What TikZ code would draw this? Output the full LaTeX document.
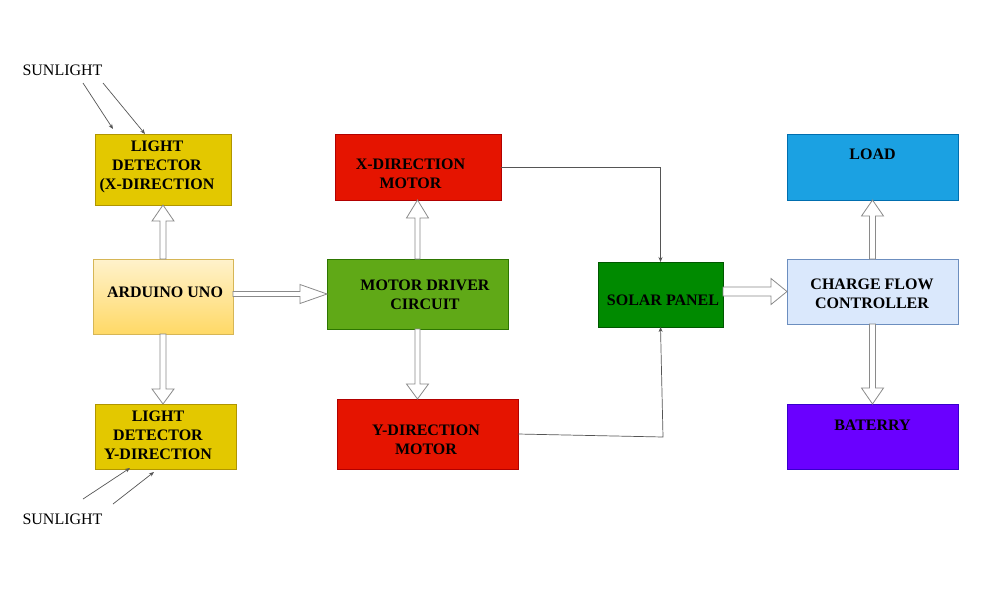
\documentclass[tikz,border=0pt]{standalone}
\usepackage{fontspec}
\setmainfont{Liberation Serif}
\usetikzlibrary{calc,arrows.meta}
\definecolor{ldfill}{HTML}{E3C800}\definecolor{lddraw}{HTML}{B09500}
\definecolor{ardtop}{HTML}{FFF2CC}\definecolor{ardbot}{HTML}{FFD966}\definecolor{arddraw}{HTML}{D6B656}
\definecolor{redfill}{HTML}{E51400}\definecolor{reddraw}{HTML}{B20000}
\definecolor{mdfill}{HTML}{60A917}\definecolor{mddraw}{HTML}{2D7600}
\definecolor{spfill}{HTML}{008A00}\definecolor{spdraw}{HTML}{005700}
\definecolor{ldfill2}{HTML}{1BA1E2}\definecolor{lddraw2}{HTML}{006EAF}
\definecolor{cffill}{HTML}{DAE8FC}\definecolor{cfdraw}{HTML}{6C8EBF}
\definecolor{btfill}{HTML}{6A00FF}\definecolor{btdraw}{HTML}{3700CC}
\definecolor{bagray}{HTML}{8A8A8A}
\definecolor{thin}{HTML}{555555}
\newcommand\blockarr[5]{%
  \coordinate (ba-s) at (#1);
  \coordinate (ba-e) at (#2);
  \coordinate (ba-h) at ($(ba-e)!#5pt!(ba-s)$);
  \draw[blockarrow] ($(ba-s)!#3pt!90:(ba-e)$) -- ($(ba-h)!#3pt!90:(ba-e)$) -- ($(ba-h)!#4pt!90:(ba-e)$) -- (ba-e) -- ($(ba-h)!#4pt!-90:(ba-e)$) -- ($(ba-h)!#3pt!-90:(ba-e)$) -- ($(ba-s)!#3pt!-90:(ba-e)$) -- cycle;}
\begin{document}
\begin{tikzpicture}[x=1pt,y=-1pt,
  box/.style={rectangle,inner sep=0pt,outer sep=0pt,line width=0.6pt},
  lbl/.style={align=center,inner sep=0pt,font=\bfseries\fontsize{16}{19}\selectfont},
  sun/.style={inner sep=0pt,font=\fontsize{16}{19}\selectfont},
  blockarrow/.style={draw=bagray,fill=white,line width=0.8pt,line join=miter},
  ray/.style={draw=thin,line width=0.7pt,-{Stealth[length=5pt,width=4pt]}}]
\useasboundingbox[fill=white] (0,0) rectangle (990,600);
% boxes
\node[box,fill=ldfill,draw=lddraw,minimum width=136,minimum height=71] (ldx) at (163,169.5) {};
\node[box,top color=ardtop,bottom color=ardbot,draw=arddraw,minimum width=140,minimum height=75] (ard) at (163,296.5) {};
\node[box,fill=ldfill,draw=lddraw,minimum width=141,minimum height=65] (ldy) at (165.5,436.5) {};
\node[box,fill=redfill,draw=reddraw,minimum width=166,minimum height=66] (xm) at (418,167) {};
\node[box,fill=mdfill,draw=mddraw,minimum width=181,minimum height=70] (md) at (417.5,294) {};
\node[box,fill=redfill,draw=reddraw,minimum width=181,minimum height=70] (ym) at (427.5,434) {};
\node[box,fill=spfill,draw=spdraw,minimum width=125,minimum height=65] (sp) at (660.5,294.5) {};
\node[box,fill=ldfill2,draw=lddraw2,minimum width=171,minimum height=66] (load) at (872.5,167) {};
\node[box,fill=cffill,draw=cfdraw,minimum width=171,minimum height=65] (cfc) at (872.5,291.5) {};
\node[box,fill=btfill,draw=btdraw,minimum width=171,minimum height=65] (bat) at (872.5,436.5) {};
% labels
\node[lbl] (ldx-t) at (157,166.5) {LIGHT\\DETECTOR\\(X-DIRECTION};
\node[lbl] (ard-t) at (165,292.5) {ARDUINO UNO};
\node[lbl] (ldy-t) at (158,435.5) {LIGHT\\DETECTOR\\Y-DIRECTION};
\node[lbl] (xm-t) at (410.5,174) {X-DIRECTION\\MOTOR};
\node[lbl] (md-t) at (425,294.5) {MOTOR DRIVER\\CIRCUIT};
\node[lbl] (ym-t) at (426,439.5) {Y-DIRECTION\\MOTOR};
\node[lbl] (sp-t) at (663,300) {SOLAR PANEL};
\node[lbl] (load-t) at (872.5,154.5) {LOAD};
\node[lbl] (cfc-t) at (872,293.5) {CHARGE FLOW\\CONTROLLER};
\node[lbl] (bat-t) at (872.5,425) {BATERRY};
\node[sun] (sun1) at (62.5,70) {SUNLIGHT};
\node[sun] (sun2) at (62.5,519.5) {SUNLIGHT};
% block arrows
\blockarr{ard.north}{ldx.south}{3}{11}{16}
\blockarr{ard.south}{ard.south |- ldy.north}{3}{11}{15}
\blockarr{ard.east |- md.west}{md.west}{2.5}{9.5}{27}
\blockarr{md.north}{md.north |- xm.south}{2.5}{11}{18}
\blockarr{md.south}{md.south |- ym.north}{2.5}{11}{15}
\blockarr{sp.east |- cfc.west}{cfc.west}{4.5}{13}{16}
\blockarr{cfc.north}{load.south}{3}{11}{16}
\blockarr{cfc.south}{bat.north}{3}{11}{16}
% thin connectors
\coordinate (ymturn) at (663,437);
\draw[ray] (xm.east) -| (sp.north);
\draw[ray] (ym.east) -- (ymturn) -- (sp.south);
% sunlight rays
\coordinate (r1s) at (83,83);  \coordinate (r1e) at (113,129);
\coordinate (r2s) at (103,83); \coordinate (r2e) at (145,134);
\coordinate (r3s) at (83,499); \coordinate (r3e) at (130,468);
\coordinate (r4s) at (113,504);\coordinate (r4e) at (154,472);
\draw[ray] (r1s) -- (r1e);
\draw[ray] (r2s) -- (r2e);
\draw[ray] (r3s) -- (r3e);
\draw[ray] (r4s) -- (r4e);
\end{tikzpicture}
\end{document}
